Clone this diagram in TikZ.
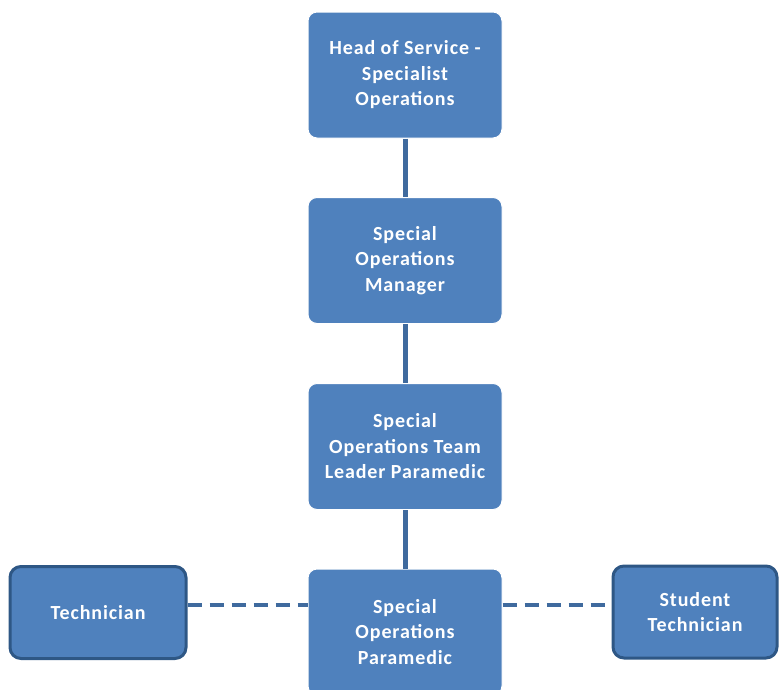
\documentclass[tikz,border=0pt]{standalone}
\usepackage{fontspec}
\setmainfont{Carlito}[LetterSpace=4.5]
\definecolor{boxblue}{HTML}{4F81BD}
\definecolor{edgeblue}{HTML}{2E5785}
\definecolor{lineblue}{HTML}{3F6A9E}
\begin{document}
\begin{tikzpicture}[x=1pt,y=-1pt,
  mainbox/.style={fill=boxblue,draw=white,line width=1pt,rounded corners=9pt,minimum width=194pt,minimum height=126pt,inner sep=0pt,
    text=white,font=\fontsize{20}{25.5}\selectfont\bfseries,align=center},
  sidebox/.style={fill=boxblue,draw=edgeblue,line width=3pt,rounded corners=11pt,inner sep=0pt,
    text=white,font=\fontsize{20}{25.5}\selectfont\bfseries,align=center},
  link/.style={draw=lineblue,line width=5pt},
  dlink/.style={draw=lineblue,line width=4.5pt,dash pattern=on 14pt off 8pt}]
\useasboundingbox (0,0) rectangle (779,689);
\clip (0,0) rectangle (779,689);
\node[mainbox] (head) at (405,75) {Head of Service -\\Specialist\\Operations};
\node[mainbox] (mgr) at (405,260.5) {Special\\Operations\\Manager};
\node[mainbox] (tl) at (405,446.5) {Special\\Operations Team\\Leader Paramedic};
\node[mainbox] (para) at (405,632) {Special\\Operations\\Paramedic};
\node[sidebox,minimum width=176pt,minimum height=92pt] (tech) at (98,612.5) {Technician};
\node[sidebox,minimum width=164pt,minimum height=92pt] (stud) at (695,612) {Student\\Technician};
\draw[link] (head.south) -- (mgr.north);
\draw[link] (mgr.south) -- (tl.north);
\draw[link] (tl.south) -- (para.north);
\draw[dlink] ([yshift=7.5pt]tech.east) -- ([yshift=7.5pt]tech.east -| para.west);
\draw[dlink] ([yshift=7pt]stud.west -| para.east) -- ([yshift=7pt]stud.west);
\end{tikzpicture}
\end{document}
